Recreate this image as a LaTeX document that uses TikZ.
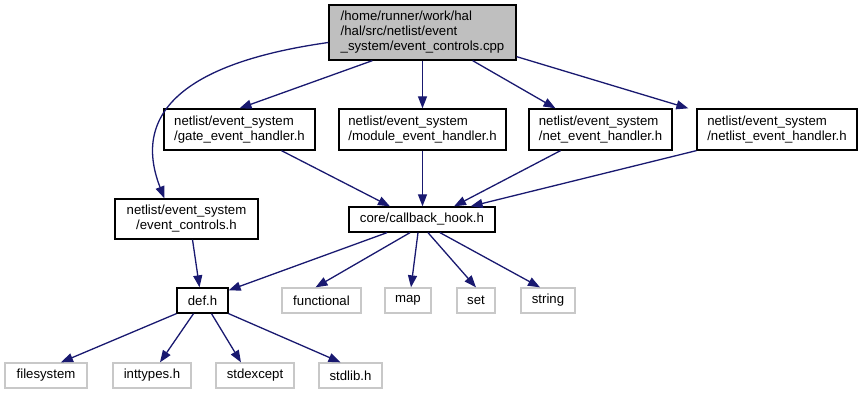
\documentclass[tikz,border=0pt]{standalone}
\usepackage{fontspec}
\setmainfont{Liberation Sans}
\usetikzlibrary{arrows.meta}
\definecolor{edgeblue}{RGB}{25,25,112}
\definecolor{topgray}{RGB}{191,191,191}
\definecolor{sysgray}{RGB}{200,200,200}

\begin{document}
\begin{tikzpicture}
[every node/.style={inner xsep=9pt, inner ysep=0pt, font=\fontsize{13.2}{15}\selectfont},
 hdr/.style={rectangle, draw=black, line width=1.3pt, minimum height=25pt, align=left},
 sys/.style={rectangle, draw=sysgray, line width=1.3pt, minimum height=25pt},
 inc/.style={line width=1.3pt, color=edgeblue, -{Triangle[length=12pt, width=9pt]}}]
\useasboundingbox (0pt, 0pt) rectangle (863pt, -395pt);
\node (src) [hdr, fill=topgray, minimum width=187pt, minimum height=55pt] at (422.5pt, -32.5pt) {/home/runner/work/hal\\/hal/src/netlist/event\\\_system/event\_controls.cpp};
\node (gate) [hdr, minimum width=151pt, minimum height=41pt] at (239.5pt, -129.5pt) {netlist/event\_system\\/gate\_event\_handler.h};
\node (module) [hdr, minimum width=167pt, minimum height=41pt] at (422.5pt, -129.5pt) {netlist/event\_system\\/module\_event\_handler.h};
\node (net) [hdr, minimum width=143pt, minimum height=41pt] at (600.5pt, -129.5pt) {netlist/event\_system\\/net\_event\_handler.h};
\node (netlist) [hdr, minimum width=160pt, minimum height=41pt] at (777pt, -129.5pt) {netlist/event\_system\\/netlist\_event\_handler.h};
\node (controls) [hdr, align=center, minimum width=143pt, minimum height=40pt] at (186.5pt, -219pt) {netlist/event\_system\\/event\_controls.h};
\node (hook) [hdr, minimum width=146pt] at (422pt, -219.5pt) {core/callback\_hook.h};
\node (def) [hdr, minimum width=51pt] at (202.5pt, -300.5pt) {def.h};
\node (functional) [sys, minimum width=79pt] at (321.5pt, -300.5pt) {functional};
\node (map) [sys, minimum width=46pt] at (408pt, -300.5pt) {map};
\node (set) [sys, minimum width=38pt] at (476pt, -300.5pt) {set};
\node (string) [sys, minimum width=54pt] at (548pt, -300.5pt) {string};
\node (filesystem) [sys, minimum width=82pt] at (46pt, -375.5pt) {filesystem};
\node (inttypes) [sys, minimum width=78pt] at (152pt, -375.5pt) {inttypes.h};
\node (stdexcept) [sys, minimum width=78pt] at (255pt, -375.5pt) {stdexcept};
\node (stdlib) [sys, minimum width=63pt] at (350.5pt, -375.5pt) {stdlib.h};
% includes of the source file
\draw [inc] ([xshift=44pt]src.south west) to (gate.north);
\draw [inc] (src.south) to (module.north);
\draw [inc] ([xshift=-44pt]src.south east) to ([xshift=-45pt]net.north);
\draw [inc] ([yshift=4pt]src.south east) to ([xshift=-8pt]netlist.north west);
\draw [inc] ([yshift=-10pt]src.west) .. controls (190pt, -62pt) and (130pt, -110pt) .. ([xshift=50pt]controls.north west);
% handlers pull in the hook
\draw [inc] ([xshift=42pt]gate.south) to ([xshift=-32pt]hook.north);
\draw [inc] (module.south) to ([xshift=0.5pt]hook.north);
\draw [inc] ([xshift=-40pt]net.south) to ([xshift=32pt]hook.north);
\draw [inc] (netlist.south west) to ([xshift=-25pt]hook.north east);
\draw [inc] ([xshift=6pt]controls.south) to ([xshift=-3pt]def.north);
\draw [inc] ([xshift=-35pt]hook.south) to ([yshift=-3pt]def.north east);
\draw [inc] ([xshift=-12pt]hook.south) to ([xshift=-6pt]functional.north);
\draw [inc] ([xshift=-4pt]hook.south) to ([xshift=3pt]map.north);
\draw [inc] ([xshift=6pt]hook.south) to (set.north);
\draw [inc] ([xshift=18pt]hook.south) to ([xshift=-8pt]string.north);
\draw [inc] (def.south west) to ([xshift=15pt]filesystem.north);
\draw [inc] ([xshift=-9pt]def.south) to ([xshift=8pt]inttypes.north);
\draw [inc] ([xshift=9pt]def.south) to ([xshift=-14pt]stdexcept.north);
\draw [inc] (def.south east) to ([xshift=-10pt]stdlib.north);
\end{tikzpicture}
\end{document}
